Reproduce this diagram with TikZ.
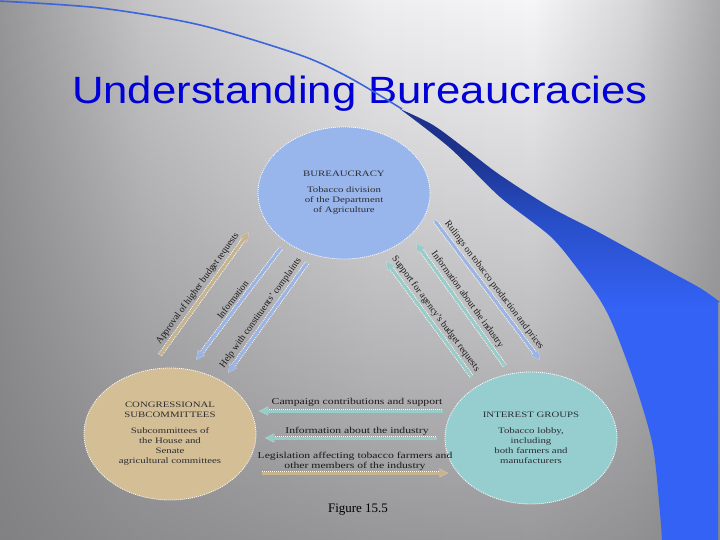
\documentclass[tikz,border=0pt]{standalone}
\usepackage{fontspec}
\usepackage{graphicx}
\setmainfont{Liberation Serif}
\newfontfamily\titlefont[FakeStretch=1.15]{Liberation Sans}
\newfontfamily\wideserif[FakeStretch=1.3]{Liberation Serif}
\usetikzlibrary{arrows.meta,shapes.geometric,fadings}

\definecolor{titleblue}{RGB}{0,0,215}
\definecolor{bgA}{RGB}{150,150,152}
\definecolor{bgB}{RGB}{198,198,200}
\definecolor{bgC}{RGB}{238,238,240}
\definecolor{bgD}{RGB}{246,246,248}
\definecolor{bgE}{RGB}{215,215,217}
\definecolor{bgF}{RGB}{168,168,170}
\definecolor{bgdark}{RGB}{122,122,124}
\definecolor{swB}{RGB}{52,98,245}
\definecolor{swM}{RGB}{40,78,200}
\definecolor{swD}{RGB}{28,50,140}
\definecolor{swline}{RGB}{60,100,220}
\definecolor{bureauFill}{RGB}{152,182,236}
\definecolor{congFill}{RGB}{211,190,150}
\definecolor{intFill}{RGB}{150,206,208}
\definecolor{ellText}{RGB}{45,45,50}
\definecolor{labText}{RGB}{25,25,25}
\definecolor{tanA}{RGB}{200,180,140}
\definecolor{blueA}{RGB}{155,180,230}
\definecolor{tealA}{RGB}{150,205,200}

\pgfdeclarehorizontalshading{bgshade}{100bp}{color(0bp)=(bgA); color(25bp)=(bgA); color(35bp)=(bgB); color(51bp)=(bgC); color(62bp)=(bgD); color(69bp)=(bgE); color(75bp)=(bgF); color(100bp)=(bgF)}
\pgfdeclareverticalshading{swshade}{100bp}{color(0bp)=(swB); color(52bp)=(swB); color(62bp)=(swM); color(70bp)=(swD); color(100bp)=(swD)}
\tikzfading[name=vfade, top color=transparent!100, middle color=transparent!75, bottom color=transparent!25]

\begin{document}
\begin{tikzpicture}[x=1pt,y=-1pt,
  ell/.style={ellipse, minimum width=172pt, minimum height=132pt, inner sep=0pt,
    draw=white, line width=0.8pt, dash pattern=on 1pt off 1pt, align=center,
    font=\wideserif\fontsize{8.3}{10}\selectfont, text=ellText},
  arrowline/.style={draw=#1, line width=3pt,
    preaction={draw=white, line width=4.6pt, dash pattern=on 1pt off 1pt}},
  fwd/.style={-{Triangle[length=9pt,width=8pt]}},
  rev/.style={{Triangle[length=9pt,width=8pt]}-},
  lab/.style={sloped, above=1.5pt, inner sep=1pt, font=\fontsize{9.5}{11}\selectfont, text=labText},
  hlab/.style={inner sep=0pt, align=center, font=\wideserif\fontsize{9}{10}\selectfont, text=labText}]
\useasboundingbox (0,0) rectangle (720,540);
\begin{scope}
\clip (0,0) rectangle (720,540);
\shade[shading=bgshade] (0,0) rectangle (720,540);
\fill[bgdark, path fading=vfade] (0,0) rectangle (720,540);

\node[font=\titlefont\fontsize{38}{40}\selectfont, text=titleblue, anchor=base, inner sep=0pt] (title) at (360,104) {Understanding Bureaucracies};

\draw[swline, line width=1.6pt] plot[smooth] coordinates {(-2,1) (100,8) (200,25) (300,55) (350,78) (402,109)};
\shade[shading=swshade] plot[smooth] coordinates {(400,109) (450,148) (500,197) (550,236) (577,268) (600,300) (615,330) (637,390) (653,447) (660,513) (662,541)} -- (718,541) -- (718,302) -- plot[smooth] coordinates {(720,302) (700,288) (667,270) (600,233) (550,207) (500,175) (467,150) (433,125) (400,109)} -- cycle;
\end{scope}

% circles
\node[ell, fill=bureauFill] (bur) at (344,193) {BUREAUCRACY\\[6pt]Tobacco division\\of the Department\\of Agriculture};
\node[ell, fill=congFill] (cong) at (170,434) {CONGRESSIONAL\\SUBCOMMITTEES\\[6pt]Subcommittees of\\the House and\\Senate\\agricultural committees};
\node[ell, fill=intFill] (int) at (531,438) {INTEREST GROUPS\\[6pt]Tobacco lobby,\\including\\both farmers and\\manufacturers};

% left arrows
\coordinate (a1s) at (160,355); \coordinate (a1e) at (249,232);
\coordinate (a2s) at (196,360); \coordinate (a2e) at (281,248);
\coordinate (a3s) at (228,373); \coordinate (a3e) at (307,263);
\draw[arrowline=tanA, fwd] (a1s) -- node[lab]{Approval of higher budget requests} (a1e);
\draw[arrowline=blueA, rev] (a2s) -- node[lab]{Information} (a2e);
\draw[arrowline=blueA, rev] (a3s) -- node[lab]{Help with constituents' complaints} (a3e);

% right arrows
\coordinate (b1s) at (435,221); \coordinate (b1e) at (540,360);
\coordinate (b2s) at (416,243); \coordinate (b2e) at (505,366);
\coordinate (b3s) at (386,261); \coordinate (b3e) at (472,377);
\draw[arrowline=blueA, fwd] (b1s) -- node[lab]{Rulings on tobacco production and prices} (b1e);
\draw[arrowline=tealA, rev] (b2s) -- node[lab]{Information about the industry} (b2e);
\draw[arrowline=tealA, rev] (b3s) -- node[lab]{Support for agency's budget requests} (b3e);

% bottom arrows
\coordinate (c1s) at (259,411); \coordinate (c1e) at (443,411);
\coordinate (c2s) at (265,438); \coordinate (c2e) at (437,438);
\coordinate (c3s) at (262,473); \coordinate (c3e) at (448,473);
\draw[arrowline=tealA, rev] (c1s) -- (c1e);
\draw[arrowline=tealA, rev] (c2s) -- (c2e);
\draw[arrowline=tanA, fwd] (c3s) -- (c3e);
\node[hlab] (l1) at (357,402) {Campaign contributions and support};
\node[hlab] (l2) at (357,431) {Information about the industry};
\node[hlab] (l3) at (355,461) {Legislation affecting tobacco farmers and\\other members of the industry};

\node[font=\fontsize{13}{15}\selectfont, text=black, inner sep=0pt] (fig) at (358,510) {Figure 15.5};
\end{tikzpicture}
\end{document}
